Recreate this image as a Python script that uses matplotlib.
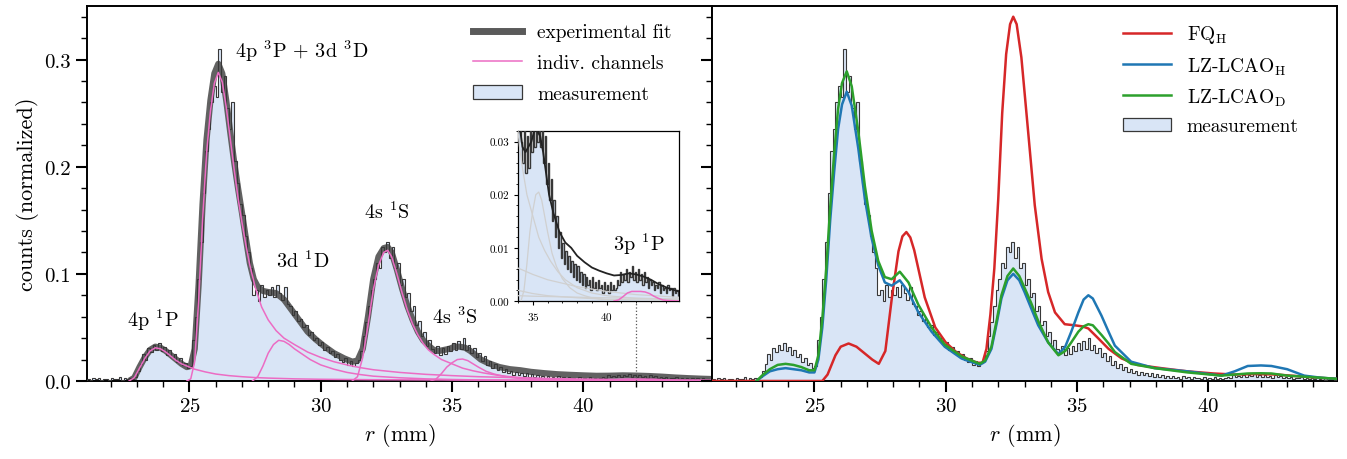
import numpy as np
import matplotlib
matplotlib.use("Agg")
import matplotlib.pyplot as plt
from matplotlib.patches import Patch
from matplotlib.lines import Line2D
from matplotlib.ticker import MultipleLocator, FormatStrFormatter

plt.rcParams.update({
    "font.family": "serif",
    "font.serif": ["cmr10"],
    "mathtext.fontset": "cm",
    "axes.unicode_minus": False,
    "axes.formatter.use_mathtext": True,
})

# measured histogram: 0.1 mm bins starting at 21.1 mm, counts in units of 1e-4
bin_start = 21.1
bin_width = 0.1
meas_1e4 = [
    20, 10, 25, 15, 30, 12, 18, 22, 10, 28,
    15, 20, 35, 12, 25, 18, 30, 22, 40, 90,
    160, 250, 200, 310, 270, 340, 290, 350, 280, 320,
    240, 290, 220, 250, 180, 210, 150, 170, 120, 140,
    380, 600, 950, 1300, 1750, 2150, 2350, 2600, 2750, 2650,
    3100, 2700, 2850, 2550, 2350, 2600, 2050, 1850, 1650, 1550,
    1350, 1200, 1050, 800, 850, 750, 900, 780, 850, 800,
    880, 780, 900, 820, 760, 880, 720, 700, 620, 650,
    560, 580, 500, 520, 430, 460, 380, 400, 340, 360,
    290, 320, 260, 280, 220, 250, 200, 180, 210, 150,
    190, 140, 170, 200, 280, 420, 550, 700, 850, 950,
    1100, 1050, 1250, 1200, 1300, 1150, 1250, 1050, 1100, 900,
    950, 780, 820, 650, 700, 520, 560, 420, 460, 330,
    380, 300, 260, 330, 240, 310, 250, 330, 280, 350,
    290, 370, 300, 400, 290, 340, 260, 310, 220, 260,
    190, 230, 150, 190, 120, 160, 100, 130, 80, 110,
    70, 95, 60, 85, 55, 75, 45, 70, 40, 65,
    35, 55, 30, 50, 25, 45, 30, 40, 20, 45,
    25, 35, 20, 40, 25, 30, 15, 35, 20, 30,
    15, 35, 20, 30, 20, 25, 40, 30, 55, 35,
    50, 40, 60, 35, 55, 45, 65, 40, 55, 35,
    60, 40, 50, 30, 55, 35, 45, 25, 40, 30,
    35, 20, 30, 25, 35, 15, 30, 20, 25, 15,
    30, 20, 25, 10, 25, 15, 20, 10,
]

# experimental fit
fit_r = [22.7, 22.9, 23.1, 23.3, 23.5, 23.7, 23.9, 24.1, 24.3, 24.5, 24.7, 24.9,
         25.05, 25.2, 25.35, 25.5, 25.65, 25.8, 25.95, 26.1, 26.25, 26.4, 26.55,
         26.7, 26.85, 27.0, 27.15, 27.3, 27.45, 27.6, 27.8, 28.0, 28.3, 28.6,
         28.9, 29.2, 29.5, 29.8, 30.1, 30.5, 30.9, 31.2, 31.4, 31.6, 31.8, 32.0,
         32.2, 32.4, 32.55, 32.7, 32.9, 33.1, 33.3, 33.5, 33.7, 33.9, 34.1, 34.3,
         34.5, 34.7, 34.9, 35.1, 35.3, 35.5, 35.7, 35.9, 36.1, 36.4, 36.8, 37.2,
         37.6, 38.0, 38.5, 39.0, 39.5, 40.0, 40.5, 41.0, 41.5, 42.0, 42.5, 43.0,
         43.5, 44.0, 44.5, 44.9]
fit_y = [0.000, 0.003, 0.013, 0.022, 0.029, 0.032, 0.031, 0.028, 0.024, 0.020, 0.016, 0.013,
         0.014, 0.030, 0.090, 0.165, 0.225, 0.262, 0.287, 0.296, 0.287, 0.262, 0.233,
         0.205, 0.180, 0.157, 0.133, 0.110, 0.095, 0.088, 0.084, 0.083, 0.082, 0.076,
         0.066, 0.056, 0.046, 0.039, 0.033, 0.026, 0.021, 0.018, 0.019, 0.030, 0.060, 0.095,
         0.116, 0.124, 0.125, 0.120, 0.104, 0.086, 0.070, 0.057, 0.046, 0.038, 0.033, 0.029,
         0.028, 0.029, 0.030, 0.032, 0.032, 0.031, 0.028, 0.024, 0.020, 0.0165, 0.013, 0.011,
         0.0100, 0.0085, 0.0073, 0.0063, 0.0057, 0.0052, 0.0048, 0.0049, 0.0052, 0.0050, 0.0046, 0.0040,
         0.0032, 0.0026, 0.0021, 0.0018]

# individual channels
ch_4p1P_r = [22.7, 22.9, 23.1, 23.3, 23.5, 23.7, 23.9, 24.1, 24.3, 24.5, 24.7, 24.9,
             25.2, 25.6, 26.0, 26.5, 27.0, 27.5, 28.0, 29.0, 30.0, 32.0, 35.0, 40.0, 44.9]
ch_4p1P_y = [0, 0.003, 0.012, 0.021, 0.028, 0.031, 0.030, 0.027, 0.023, 0.019, 0.016, 0.014,
             0.011, 0.0085, 0.0065, 0.005, 0.004, 0.0032, 0.0027, 0.002, 0.0016, 0.0012,
             0.0009, 0.0006, 0.0004]
ch_4p3P_r = [24.9, 25.05, 25.2, 25.35, 25.5, 25.65, 25.8, 25.95, 26.1, 26.25, 26.4, 26.55,
             26.7, 26.85, 27.0, 27.15, 27.3, 27.5, 27.75, 28.0, 28.3, 28.6, 29.0, 29.5,
             30.0, 30.5, 31.0, 31.5, 32.0, 33.0, 34.0, 35.0, 36.0, 38.0, 40.0, 42.0, 44.9]
ch_4p3P_y = [0, 0.002, 0.018, 0.075, 0.150, 0.212, 0.252, 0.278, 0.288, 0.279, 0.256, 0.227,
             0.198, 0.171, 0.148, 0.127, 0.108, 0.088, 0.069, 0.057, 0.047, 0.040, 0.034, 0.027,
             0.022, 0.018, 0.015, 0.0125, 0.0105, 0.008, 0.0062, 0.005, 0.004, 0.0027, 0.0018,
             0.0012, 0.0007]
ch_3d1D_r = [27.4, 27.6, 27.8, 28.0, 28.2, 28.4, 28.6, 28.8, 29.0, 29.3, 29.6, 30.0, 30.5,
             31.0, 31.5, 32.0, 33.0, 34.0, 35.0, 36.0, 38.0, 40.0, 44.9]
ch_3d1D_y = [0, 0.004, 0.014, 0.026, 0.034, 0.038, 0.037, 0.034, 0.030, 0.025, 0.020, 0.015,
             0.011, 0.008, 0.006, 0.0045, 0.003, 0.002, 0.0014, 0.001, 0.0006, 0.0003, 0.0001]
ch_4s1S_r = [31.2, 31.4, 31.6, 31.8, 32.0, 32.2, 32.4, 32.55, 32.7, 32.9, 33.1, 33.3, 33.5,
             33.7, 33.9, 34.1, 34.3, 34.6, 35.0, 35.4, 35.8, 36.2, 36.7, 37.2, 38.0, 39.0,
             40.0, 42.0, 44.9]
ch_4s1S_y = [0, 0.004, 0.022, 0.052, 0.085, 0.108, 0.120, 0.122, 0.116, 0.100, 0.082, 0.066,
             0.053, 0.043, 0.035, 0.029, 0.025, 0.020, 0.016, 0.012, 0.0095, 0.0075, 0.0055,
             0.004, 0.0025, 0.0015, 0.001, 0.0005, 0.0002]
ch_4s3S_r = [34.2, 34.4, 34.6, 34.8, 35.0, 35.2, 35.4, 35.6, 35.8, 36.0, 36.3, 36.6, 37.0,
             37.5, 38.0, 38.5, 39.0, 40.0]
ch_4s3S_y = [0, 0.002, 0.007, 0.013, 0.017, 0.020, 0.0205, 0.019, 0.016, 0.013, 0.009,
             0.0065, 0.0042, 0.0025, 0.0015, 0.001, 0.0006, 0.0002]
ch_3p1P_r = [40.5, 40.8, 41.1, 41.4, 41.7, 42.0, 42.3, 42.6, 42.9, 43.2, 43.5, 43.8, 44.1, 44.9]
ch_3p1P_y = [0, 0.0002, 0.0008, 0.0015, 0.0018, 0.0018, 0.0018, 0.0017, 0.0014, 0.0009,
             0.0005, 0.0002, 0.0001, 0.0]

# theory (right panel)
fq_r = [21.1, 25.3, 25.5, 25.8, 26.0, 26.3, 26.6, 26.9, 27.2, 27.45, 27.7, 27.95, 28.2,
        28.35, 28.5, 28.65, 28.8, 29.0, 29.2, 29.6, 30.0, 30.4, 30.8, 31.2, 31.4, 31.55,
        31.7, 31.85, 32.0, 32.15, 32.3, 32.45, 32.57, 32.7, 32.88, 33.14, 33.39, 33.65,
        33.9, 34.16, 34.53, 34.9, 35.2, 35.43, 35.8, 36.2, 36.7, 37.3, 38.2, 39.2, 40.2,
        41.0, 41.8, 42.6, 43.4, 44.2, 44.9]
fq_y = [0, 0, 0.006, 0.024, 0.032, 0.035, 0.032, 0.026, 0.020, 0.016, 0.028, 0.078, 0.121,
        0.135, 0.139, 0.134, 0.122, 0.100, 0.078, 0.050, 0.036, 0.027, 0.021, 0.017, 0.017,
        0.030, 0.062, 0.105, 0.170, 0.250, 0.305, 0.333, 0.340, 0.333, 0.302, 0.232, 0.164,
        0.114, 0.083, 0.064, 0.053, 0.052, 0.051, 0.049, 0.040, 0.030, 0.021, 0.015, 0.012,
        0.009, 0.007, 0.006, 0.0065, 0.006, 0.0045, 0.003, 0.002]
lz_r = [22.8, 23.0, 23.3, 23.6, 23.9, 24.2, 24.5, 24.8, 25.0, 25.15, 25.3, 25.45, 25.6,
        25.75, 25.9, 26.05, 26.23, 26.42, 26.67, 26.92, 27.18, 27.43, 27.68, 27.94, 28.25,
        28.58, 28.96, 29.46, 29.96, 30.6, 31.29, 31.5, 31.74, 31.95, 32.12, 32.35, 32.57,
        32.8, 33.0, 33.25, 33.52, 33.9, 34.29, 34.55, 34.78, 35.05, 35.25, 35.43, 35.6,
        35.93, 36.2, 36.44, 37.06, 37.95, 39.2, 40.5, 41.0, 41.5, 42.0, 42.4, 43.0, 43.65,
        44.3, 44.9]
lz_h_y = [0, 0.004, 0.009, 0.011, 0.012, 0.011, 0.010, 0.008, 0.008, 0.020, 0.050, 0.095,
          0.150, 0.195, 0.235, 0.258, 0.270, 0.257, 0.217, 0.170, 0.133, 0.108, 0.092, 0.089,
          0.094, 0.083, 0.064, 0.046, 0.032, 0.021, 0.015, 0.018, 0.030, 0.055, 0.077, 0.094,
          0.100, 0.094, 0.083, 0.068, 0.052, 0.036, 0.025, 0.032, 0.046, 0.064, 0.076, 0.080,
          0.077, 0.061, 0.046, 0.033, 0.018, 0.012, 0.009, 0.005, 0.009, 0.014, 0.0145, 0.014,
          0.011, 0.005, 0.003, 0.002]
lz_d_y = [0, 0.005, 0.011, 0.015, 0.016, 0.015, 0.013, 0.010, 0.010, 0.024, 0.058, 0.105,
          0.162, 0.212, 0.254, 0.278, 0.289, 0.275, 0.233, 0.182, 0.140, 0.112, 0.097, 0.095,
          0.102, 0.092, 0.071, 0.050, 0.034, 0.023, 0.016, 0.019, 0.032, 0.058, 0.080, 0.098,
          0.105, 0.098, 0.087, 0.073, 0.056, 0.036, 0.024, 0.028, 0.036, 0.046, 0.051, 0.053,
          0.052, 0.043, 0.035, 0.027, 0.016, 0.012, 0.008, 0.005, 0.006, 0.007, 0.0072, 0.007,
          0.005, 0.004, 0.003, 0.002]

FILL = "#d9e5f6"
EDGE = "#383838"
PINK = "#ec6cc4"
FITC = "#5a5a5a"

meas = np.array(meas_1e4) * 1e-4
edges = bin_start + bin_width * np.arange(len(meas) + 1)


def draw_meas(ax, lw=0.8):
    ax.stairs(meas, edges, fill=True, color=FILL, zorder=1)
    ax.stairs(meas, edges, color=EDGE, lw=lw, zorder=3)


fs = 15      # tick labels
fs_lab = 16  # axis labels
fs_ann = 14.5
fs_leg = 14

fig = plt.figure(figsize=(13.47, 4.6), dpi=100)
axL = fig.add_axes([0.0646, 0.1696, 0.4640, 0.8152])
axR = fig.add_axes([0.5286, 0.1696, 0.4640, 0.8152], sharey=axL)

# ---- left panel
draw_meas(axL)
axL.plot(fit_r, fit_y, color=FITC, lw=4.5, alpha=0.95, zorder=2, solid_capstyle="butt")
for r, y in [(ch_4p1P_r, ch_4p1P_y), (ch_4p3P_r, ch_4p3P_y), (ch_3d1D_r, ch_3d1D_y),
             (ch_4s1S_r, ch_4s1S_y), (ch_4s3S_r, ch_4s3S_y), (ch_3p1P_r, ch_3p1P_y)]:
    axL.plot(r, y, color=PINK, lw=1.1, zorder=4)
axL.plot([42.0, 42.0], [0, 0.075], ls=":", color="#555555", lw=0.9, zorder=5)

axL.text(23.6, 0.058, r"4p $^1$P", fontsize=fs_ann, ha="center", va="center")
axL.text(26.75, 0.309, r"4p $^3$P + 3d $^3$D", fontsize=fs_ann, ha="left", va="center")
axL.text(29.3, 0.113, r"3d $^1$D", fontsize=fs_ann, ha="center", va="center")
axL.text(32.54, 0.158, r"4s $^1$S", fontsize=fs_ann, ha="center", va="center")
axL.text(35.13, 0.060, r"4s $^3$S", fontsize=fs_ann, ha="center", va="center")

handles_L = [Line2D([], [], color=FITC, lw=5),
             Line2D([], [], color=PINK, lw=1.1),
             Patch(facecolor=FILL, edgecolor=EDGE, lw=0.9)]
axL.legend(handles_L, ["experimental fit", "indiv. channels", "measurement"],
           loc="upper left", bbox_to_anchor=(0.590, 1.0), frameon=False, fontsize=fs_leg,
           handlelength=2.5, labelspacing=0.65, handletextpad=0.8)

axL.set_ylabel("counts (normalized)", fontsize=fs_lab)

# ---- right panel
draw_meas(axR)
axR.plot(fq_r, fq_y, color="#d62728", lw=1.8, zorder=4, label=r"FQ$_\mathrm{H}$")
axR.plot(lz_r, lz_h_y, color="#1f77b4", lw=1.8, zorder=4, label=r"LZ-LCAO$_\mathrm{H}$")
axR.plot(lz_r, lz_d_y, color="#2ca02c", lw=1.8, zorder=4, label=r"LZ-LCAO$_\mathrm{D}$")
hR, lR = axR.get_legend_handles_labels()
hR.append(Patch(facecolor=FILL, edgecolor=EDGE, lw=0.9))
lR.append("measurement")
axR.legend(hR, lR, loc="upper left", bbox_to_anchor=(0.629, 1.0), frameon=False,
           fontsize=fs_leg, handlelength=2.5, labelspacing=0.5, handletextpad=0.8)

for ax in (axL, axR):
    ax.set_xlim(21.1, 44.9)
    ax.set_ylim(0, 0.35)
    ax.set_xlabel(r"$r$ (mm)", fontsize=fs_lab)
    ax.xaxis.set_major_locator(MultipleLocator(5))
    ax.xaxis.set_minor_locator(MultipleLocator(1))
    ax.yaxis.set_major_locator(MultipleLocator(0.1))
    ax.yaxis.set_minor_locator(MultipleLocator(0.02))
    ax.tick_params(which="major", direction="out", length=8, width=1.5, labelsize=fs)
    ax.tick_params(which="minor", direction="out", length=4, width=1.0)
    for s in ax.spines.values():
        s.set_linewidth(1.4)
axL.yaxis.set_major_formatter(FormatStrFormatter("%.1f"))
# right panel's left ticks point outwards, i.e. into the left panel
axR.tick_params(axis="y", which="both", labelleft=False)

# ---- inset
axI = fig.add_axes([0.3846, 0.3435, 0.1195, 0.3696])
draw_meas(axI, lw=1.0)
for r, y in [(ch_4p1P_r, ch_4p1P_y), (ch_4p3P_r, ch_4p3P_y), (ch_3d1D_r, ch_3d1D_y),
             (ch_4s1S_r, ch_4s1S_y), (ch_4s3S_r, ch_4s3S_y)]:
    axI.plot(r, y, color="#d0d0d0", lw=0.9, zorder=4)
axI.plot(ch_3p1P_r, ch_3p1P_y, color=PINK, lw=1.1, zorder=4)
axI.plot(fit_r, fit_y, color="#222222", lw=1.3, zorder=5)
axI.text(42.2, 0.0108, r"3p $^1$P", fontsize=fs_ann, ha="center", va="center")
axI.set_xlim(34.0, 44.9)
axI.set_ylim(0, 0.032)
axI.xaxis.set_major_locator(MultipleLocator(5))
axI.xaxis.set_minor_locator(MultipleLocator(1))
axI.yaxis.set_major_locator(MultipleLocator(0.01))
axI.yaxis.set_minor_locator(MultipleLocator(0.002))
axI.yaxis.set_major_formatter(FormatStrFormatter("%.2f"))
axI.tick_params(which="major", direction="out", length=3, width=0.8, labelsize=8)
axI.tick_params(which="minor", direction="out", length=1.5, width=0.6)
for s in axI.spines.values():
    s.set_linewidth(0.9)

fig.savefig("out.png", dpi=100)
